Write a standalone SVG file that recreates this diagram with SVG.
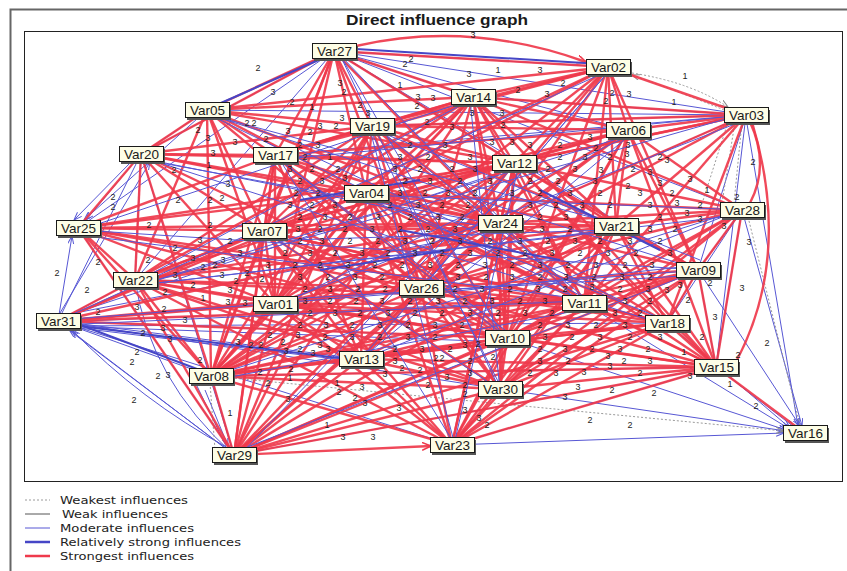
<svg xmlns="http://www.w3.org/2000/svg" width="847" height="571" viewBox="0 0 847 571">
<defs>
<style>
.r{stroke:#ef3a4c;stroke-width:2.4;fill:none;stroke-opacity:.92}
.b{stroke:#5757d4;stroke-width:1;fill:none}
.bs{stroke:#4646c6;stroke-width:2;fill:none}
.dt{stroke:#9a9a9a;stroke-width:1;stroke-dasharray:2 2;fill:none}
.wk{stroke:#555;stroke-width:1;fill:none}
.l{font-family:"Liberation Sans",Arial,sans-serif;font-size:9px;fill:#1e1e1e;text-anchor:middle}
.n rect.s{fill:#555}
.n rect.f{fill:#fdfde6;stroke:#1a1a1a;stroke-width:1}
.n text{font-family:"Liberation Sans",Arial,sans-serif;font-size:13.5px;fill:#1a1a1a;text-anchor:middle}
.lg{font-family:"DejaVu Sans",Verdana,sans-serif;font-size:11px;fill:#222}
</style>
<marker id="mb" markerUnits="userSpaceOnUse" markerWidth="10" markerHeight="8" refX="8" refY="3" orient="auto"><path d="M0,0L8,3L0,6" fill="none" stroke="#5757d4" stroke-width="1"/></marker>
<marker id="mr" markerUnits="userSpaceOnUse" markerWidth="12" markerHeight="10" refX="9" refY="4" orient="auto"><path d="M0,0L9,4L0,8" fill="none" stroke="#ef3a4c" stroke-width="1.6"/></marker>
<marker id="mg" markerUnits="userSpaceOnUse" markerWidth="10" markerHeight="8" refX="8" refY="3" orient="auto"><path d="M0,0L8,3L0,6" fill="none" stroke="#888" stroke-width="1"/></marker>
</defs>
<rect width="847" height="571" fill="#fff"/>
<rect x="10.5" y="9.5" width="850" height="580" fill="none" stroke="#666" stroke-width="2"/>
<text x="437" y="25" font-family="'Liberation Sans',Arial,sans-serif" font-size="15" font-weight="bold" fill="#1a1a1a" text-anchor="middle" textLength="182" lengthAdjust="spacingAndGlyphs">Direct influence graph</text>
<rect x="24.5" y="31.5" width="818" height="450" fill="#fff" stroke="#222" stroke-width="1"/>
<g id="connectors">
<g class="b">
<path d="M334 51L207 110"/><path d="M334 51L141 154"/><path d="M334 51L473 97"/><path d="M334 51L746 115"/><path d="M334 51L628 130"/><path d="M334 51L514 163"/><path d="M334 51L78 228"/><path d="M334 51L135 280"/><path d="M334 51L616 226"/><path d="M334 51L742 210"/><path d="M334 51L698 270"/><path d="M334 51L584 303"/><path d="M334 51L608 67"/>
<path d="M746 115L473 97"/><path d="M746 115L372 126"/><path d="M746 115L207 110"/><path d="M746 115L275 155"/><path d="M746 115L698 270"/><path d="M746 115L500 223"/><path d="M746 115L716 367"/><path d="M746 115L514 163"/>
<path d="M698 270L800 426" marker-end="url(#mb)"/><path d="M742 210L802 426" marker-end="url(#mb)"/><path d="M667 323L790 428" marker-end="url(#mb)"/><path d="M584 303L788 428" marker-end="url(#mb)"/><path d="M507 338L786 430" marker-end="url(#mb)"/><path d="M500 389L786 431" marker-end="url(#mb)"/><path d="M452 445L784 433" marker-end="url(#mb)"/><path d="M716 367L794 427" marker-end="url(#mb)"/><path d="M746 118L798 426" marker-end="url(#mb)"/>
<path d="M58 321L72 236" marker-end="url(#mb)"/><path d="M58 321L141 154"/><path d="M58 321L135 280"/><path d="M58 321L361 359"/><path d="M58 321L507 338"/><path d="M58 321L500 389"/><path d="M58 321L452 445"/><path d="M58 321L275 304"/><path d="M58 321L421 288"/><path d="M58 321L234 455"/>
<path d="M228 448Q140 400 72 330" marker-end="url(#mb)"/><path d="M224 447L70 331" marker-end="url(#mb)"/>
<path d="M141 154L86 220" marker-end="url(#mb)"/><path d="M207 110L84 220" marker-end="url(#mb)"/><path d="M131 162L74 220" marker-end="url(#mb)"/><path d="M60 313L150 162" marker-end="url(#mb)"/>
<path d="M141 154L207 110"/><path d="M141 154L135 280"/><path d="M234 455L141 154"/><path d="M234 455L211 376"/><path d="M234 455L78 228"/><path d="M234 455Q150 380 135 280"/>
<path d="M716 367L452 445"/><path d="M716 367L234 455"/><path d="M716 367L211 376"/><path d="M698 270L716 367"/><path d="M698 270L667 323"/><path d="M742 210L716 367"/><path d="M742 210L667 323"/><path d="M742 210L698 270"/>
<path d="M205 390L228 446" marker-end="url(#mb)"/><path d="M196 384L226 446"/><path d="M58 321L211 376"/>
<path d="M60 316L500 230"/><path d="M60 318L514 168"/><path d="M62 322L584 300"/><path d="M62 326L667 323"/><path d="M62 326L361 362"/><path d="M62 326L507 342"/>
</g>
<g class="dt">
<path d="M632 73Q690 82 728 107" marker-end="url(#mg)"/><path d="M724 110Q680 92 632 75" marker-end="url(#mg)"/>
<path d="M735 122L722 203"/><path d="M742 122L734 203"/><path d="M728 122L700 210"/>
<path d="M211 376L784 431" marker-end="url(#mg)"/><path d="M748 217L800 425"/><path d="M210 383L215 450"/>
</g>
<g class="r">
<path d="M234 455L431 446" marker-end="url(#mr)"/><path d="M234 455L500 389"/><path d="M234 455L507 338"/><path d="M234 455L361 359"/><path d="M234 455L421 288"/><path d="M234 455L500 223"/><path d="M234 455L514 163"/><path d="M234 455L366 193"/><path d="M234 455L264 231"/><path d="M234 455L275 304"/><path d="M234 455L584 303"/><path d="M234 455L667 323"/><path d="M234 455L616 226"/><path d="M234 455L698 270"/><path d="M234 455L716 367"/><path d="M234 455L135 280"/><path d="M234 455L78 228"/><path d="M234 455L275 155"/><path d="M234 455L372 126"/><path d="M234 455L473 97"/><path d="M211 376L234 455"/>
<path d="M211 376L361 359"/><path d="M211 376L500 389"/><path d="M211 376L421 288"/><path d="M211 376L507 338"/><path d="M211 376L584 303"/><path d="M211 376L500 223"/><path d="M211 376L514 163"/><path d="M211 376L366 193"/><path d="M211 376L264 231"/><path d="M211 376L275 304"/><path d="M211 376L135 280"/><path d="M211 376L78 228"/><path d="M211 376L141 154"/><path d="M211 376L207 110"/><path d="M211 376L275 155"/><path d="M211 376L372 126"/><path d="M211 376L473 97"/><path d="M211 376L608 67"/><path d="M211 376L628 130"/><path d="M211 376L616 226"/><path d="M211 376L698 270"/><path d="M211 376L667 323"/><path d="M211 376L716 367"/><path d="M211 376L452 445"/><path d="M211 376L334 51"/>
<path d="M452 445L500 389"/><path d="M452 445L507 338"/><path d="M452 445L584 303"/><path d="M452 445L667 323"/><path d="M452 445L716 367"/><path d="M452 445L698 270"/><path d="M452 445L616 226"/><path d="M452 445L500 223"/><path d="M452 445L514 163"/><path d="M452 445L421 288"/><path d="M452 445L361 359"/><path d="M452 445L275 304"/><path d="M452 445L264 231"/><path d="M452 445L366 193"/><path d="M452 445L135 280"/><path d="M452 445L742 210"/><path d="M452 445L628 130"/>
<path d="M716 367L667 323"/><path d="M716 367L698 270"/><path d="M716 367L584 303"/><path d="M716 367L616 226"/><path d="M716 367L742 210"/><path d="M716 367L500 223"/><path d="M716 367L514 163"/><path d="M716 367L507 338"/><path d="M716 367L500 389"/><path d="M716 367L421 288"/><path d="M716 367L361 359"/><path d="M716 367L275 304"/><path d="M716 367L798 428"/><path d="M716 367L628 130"/><path d="M716 367L473 97"/><path d="M716 367L366 193"/>
<path d="M667 323L584 303"/><path d="M667 323L698 270"/><path d="M667 323L616 226"/><path d="M667 323L500 223"/><path d="M667 323L514 163"/><path d="M667 323L507 338"/><path d="M667 323L421 288"/><path d="M667 323L500 389"/><path d="M667 323L361 359"/><path d="M667 323L275 304"/><path d="M667 323L264 231"/><path d="M667 323L366 193"/>
<path d="M698 270L616 226"/><path d="M698 270L584 303"/><path d="M698 270L500 223"/><path d="M698 270L514 163"/><path d="M698 270L507 338"/><path d="M698 270L421 288"/><path d="M698 270L628 130"/><path d="M698 270L742 210"/><path d="M698 270L608 67"/><path d="M698 270L500 389"/>
<path d="M742 210L616 226"/><path d="M742 210L500 223"/><path d="M742 210L514 163"/><path d="M742 210L584 303"/><path d="M742 210L507 338"/><path d="M742 210L628 130"/><path d="M742 210L421 288"/><path d="M742 210L473 97"/><path d="M742 210L366 193"/><path d="M742 210L500 389"/>
<path d="M746 115L608 67"/><path d="M746 115L628 130"/><path d="M746 115L473 97"/><path d="M746 115L514 163"/><path d="M746 115L500 223"/><path d="M746 115L616 226"/><path d="M746 115L667 323"/><path d="M746 115L584 303"/><path d="M746 115L421 288"/><path d="M746 115L366 193"/><path d="M746 115L372 126"/><path d="M752 122Q792 255 737 360"/><path d="M750 122Q770 165 750 203"/>
<path d="M608 67L334 51"/><path d="M608 67L473 97"/><path d="M608 67L372 126"/><path d="M608 67L514 163"/><path d="M608 67L628 130"/><path d="M608 67L616 226"/><path d="M608 67L500 223"/><path d="M608 67L366 193"/><path d="M608 67L275 155"/><path d="M608 67L207 110"/><path d="M608 67L421 288"/><path d="M608 67L584 303"/><path d="M608 67L507 338"/><path d="M608 67L264 231"/><path d="M356 46Q470 20 586 62" marker-end="url(#mr)"/>
<path d="M628 130L473 97"/><path d="M628 130L514 163"/><path d="M628 130L500 223"/><path d="M628 130L616 226"/><path d="M628 130L421 288"/><path d="M628 130L584 303"/><path d="M628 130L507 338"/><path d="M628 130L366 193"/><path d="M628 130L372 126"/><path d="M628 130L275 155"/><path d="M628 130L264 231"/>
<path d="M473 97L334 51"/><path d="M473 97L372 126"/><path d="M473 97L514 163"/><path d="M473 97L500 223"/><path d="M473 97L366 193"/><path d="M473 97L275 155"/><path d="M473 97L207 110"/><path d="M473 97L421 288"/><path d="M473 97L264 231"/><path d="M473 97L275 304"/><path d="M473 97L616 226"/><path d="M473 97L584 303"/><path d="M473 97L507 338"/>
<path d="M334 51L372 126"/><path d="M334 51L366 193"/><path d="M334 51L275 155"/><path d="M334 51L207 110"/><path d="M334 51L514 163"/><path d="M334 51L500 223"/><path d="M334 51L421 288"/><path d="M334 51L264 231"/><path d="M334 51L141 154"/><path d="M334 51L275 304"/>
<path d="M372 126L366 193"/><path d="M372 126L275 155"/><path d="M372 126L514 163"/><path d="M372 126L500 223"/><path d="M372 126L421 288"/><path d="M372 126L264 231"/><path d="M372 126L275 304"/><path d="M372 126L207 110"/><path d="M372 126L141 154"/><path d="M372 126L584 303"/><path d="M372 126L507 338"/><path d="M372 126L616 226"/>
<path d="M207 110L275 155"/><path d="M207 110L366 193"/><path d="M207 110L264 231"/><path d="M207 110L514 163"/><path d="M207 110L500 223"/><path d="M207 110L421 288"/><path d="M207 110L141 154"/><path d="M207 110L275 304"/><path d="M207 110L135 280"/>
<path d="M141 154L275 155"/><path d="M141 154L366 193"/><path d="M141 154L264 231"/><path d="M141 154L500 223"/><path d="M141 154L514 163"/><path d="M141 154L421 288"/><path d="M141 154L275 304"/><path d="M141 154L135 280"/><path d="M141 154L78 228"/>
<path d="M275 155L366 193"/><path d="M275 155L264 231"/><path d="M275 155L500 223"/><path d="M275 155L514 163"/><path d="M275 155L421 288"/><path d="M275 155L275 304"/><path d="M275 155L361 359"/><path d="M275 155L584 303"/><path d="M275 155L507 338"/>
<path d="M366 193L500 223"/><path d="M366 193L514 163"/><path d="M366 193L421 288"/><path d="M366 193L264 231"/><path d="M366 193L275 304"/><path d="M366 193L361 359"/><path d="M366 193L616 226"/><path d="M366 193L584 303"/><path d="M366 193L507 338"/><path d="M366 193L500 389"/>
<path d="M514 163L500 223"/><path d="M514 163L421 288"/><path d="M514 163L616 226"/><path d="M514 163L584 303"/><path d="M514 163L507 338"/><path d="M514 163L500 389"/><path d="M514 163L361 359"/><path d="M514 163L275 304"/><path d="M514 163L264 231"/>
<path d="M500 223L421 288"/><path d="M500 223L616 226"/><path d="M500 223L584 303"/><path d="M500 223L507 338"/><path d="M500 223L500 389"/><path d="M500 223L361 359"/><path d="M500 223L275 304"/><path d="M500 223L264 231"/>
<path d="M616 226L584 303"/><path d="M616 226L507 338"/><path d="M616 226L421 288"/><path d="M616 226L500 389"/><path d="M616 226L361 359"/><path d="M616 226L275 304"/><path d="M616 226L264 231"/>
<path d="M78 228L275 155"/><path d="M78 228L264 231"/><path d="M78 228L366 193"/><path d="M78 228L500 223"/><path d="M78 228L421 288"/><path d="M78 228L275 304"/><path d="M78 228L135 280"/><path d="M78 228L514 163"/><path d="M78 228L584 303"/><path d="M78 228L507 338"/>
<path d="M264 231L421 288"/><path d="M264 231L275 304"/><path d="M264 231L361 359"/><path d="M264 231L584 303"/><path d="M264 231L507 338"/><path d="M264 231L500 389"/>
<path d="M135 280L264 231"/><path d="M135 280L366 193"/><path d="M135 280L421 288"/><path d="M135 280L275 304"/><path d="M135 280L500 223"/><path d="M135 280L514 163"/><path d="M135 280L616 226"/><path d="M135 280L584 303"/><path d="M135 280L507 338"/><path d="M135 280L361 359"/><path d="M135 280L372 126"/><path d="M135 280L473 97"/><path d="M135 280L500 389"/>
<path d="M58 321L135 280"/><path d="M58 321L264 231"/><path d="M58 321L421 288"/><path d="M58 321L275 304"/><path d="M58 321L500 223"/><path d="M58 321L584 303"/><path d="M58 321L507 338"/><path d="M58 321L366 193"/>
<path d="M421 288L275 304"/><path d="M421 288L361 359"/><path d="M421 288L507 338"/><path d="M421 288L500 389"/><path d="M421 288L584 303"/><path d="M275 304L361 359"/><path d="M275 304L507 338"/><path d="M275 304L500 389"/><path d="M275 304L584 303"/><path d="M584 303L507 338"/><path d="M584 303L500 389"/><path d="M584 303L361 359"/><path d="M507 338L500 389"/><path d="M507 338L361 359"/><path d="M361 359L500 389"/>
</g>
<g class="b">
<path d="M280 160L505 330"/><path d="M300 150L620 300"/><path d="M380 130L600 310"/><path d="M350 120L700 260"/><path d="M290 240L610 230"/><path d="M270 300L700 275"/><path d="M370 200L690 330"/><path d="M420 295L700 265"/><path d="M150 160L500 230"/><path d="M140 285L620 230"/><path d="M80 235L590 300"/><path d="M60 325L600 300"/><path d="M215 380L580 310"/><path d="M240 450L700 270"/><path d="M455 440L520 160"/><path d="M505 395L370 130"/><path d="M360 360L630 135"/><path d="M510 340L280 160"/><path d="M590 300L210 115"/><path d="M620 225L210 115"/><path d="M500 225L145 160"/><path d="M470 100L140 280"/><path d="M610 70L360 360"/><path d="M630 135L140 285"/><path d="M745 120L275 305"/><path d="M740 215L140 285"/><path d="M700 270L80 230"/><path d="M665 325L145 158"/><path d="M580 305L340 55"/><path d="M505 340L340 55"/><path d="M420 290L610 70"/><path d="M365 195L745 210"/><path d="M275 160L745 115"/><path d="M270 235L500 390"/><path d="M280 305L630 135"/><path d="M500 390L470 100"/><path d="M455 445L280 160"/><path d="M240 455L515 165"/><path d="M215 375L740 210"/><path d="M360 360L740 210"/><path d="M140 285L740 115"/><path d="M60 320L610 70"/><path d="M60 320L700 270"/><path d="M80 230L470 100"/><path d="M210 115L700 270"/><path d="M340 55L500 390"/><path d="M370 130L455 445"/>
</g>
<g class="bs">
<path d="M62 318L205 372"/><path d="M62 324L355 360"/><path d="M340 48L600 64"/><path d="M214 106L330 55"/><path d="M400 230L560 260"/><path d="M320 270L450 250"/><path d="M540 190L660 250"/><path d="M300 200L420 180"/>
</g>
</g>
<g id="weights" class="l">
<text x="473" y="38">3</text><text x="258" y="71">2</text><text x="273" y="95">3</text><text x="292" y="105">2</text><text x="405" y="67">2</text><text x="411" y="62">2</text><text x="400" y="88">1</text><text x="340" y="86">3</text><text x="344" y="95">2</text><text x="312" y="110">1</text><text x="198" y="133">2</text><text x="208" y="141">3</text><text x="247" y="126">2</text><text x="254" y="126">2</text><text x="288" y="134">3</text><text x="310" y="135">2</text><text x="320" y="129">3</text><text x="336" y="129">2</text><text x="342" y="121">3</text><text x="360" y="108">2</text><text x="368" y="116">3</text><text x="418" y="100">3</text><text x="417" y="109">2</text><text x="433" y="101">3</text><text x="266" y="142">2</text><text x="235" y="145">3</text><text x="213" y="156">3</text><text x="209" y="168">1</text><text x="174" y="173">2</text>
<text x="210" y="203">2</text><text x="178" y="203">2</text><text x="113" y="200">2</text><text x="113" y="210">2</text><text x="149" y="228">2</text><text x="210" y="228">2</text><text x="228" y="187">3</text><text x="222" y="201">2</text><text x="200" y="243">3</text><text x="175" y="251">2</text><text x="148" y="263">2</text><text x="193" y="261">3</text><text x="203" y="270">2</text><text x="223" y="263">3</text><text x="175" y="278">3</text><text x="193" y="288">2</text><text x="165" y="295">2</text><text x="222" y="278">3</text><text x="236" y="284">2</text><text x="247" y="276">2</text><text x="228" y="305">3</text><text x="203" y="301">1</text><text x="245" y="306">3</text><text x="185" y="323">3</text><text x="163" y="331">3</text><text x="143" y="336">2</text><text x="98" y="315">2</text><text x="87" y="293">2</text><text x="98" y="265">2</text><text x="57" y="276">2</text>
<text x="137" y="310">3</text><text x="164" y="312">2</text><text x="170" y="342">3</text><text x="137" y="355">2</text><text x="132" y="365">2</text><text x="158" y="379">2</text><text x="168" y="378">3</text><text x="134" y="403">2</text><text x="230" y="416">1</text><text x="200" y="363">2</text>
<text x="260" y="375">2</text><text x="268" y="386">2</text><text x="291" y="372">2</text><text x="290" y="381">1</text><text x="288" y="402">3</text><text x="327" y="428">1</text><text x="343" y="440">3</text><text x="373" y="440">3</text><text x="337" y="386">1</text><text x="339" y="395">2</text><text x="362" y="390">3</text><text x="355" y="401">2</text><text x="365" y="406">3</text><text x="399" y="411">3</text><text x="428" y="388">2</text><text x="465" y="388">2</text><text x="465" y="397">2</text><text x="465" y="413">3</text><text x="479" y="421">3</text><text x="487" y="428">2</text><text x="402" y="371">2</text><text x="420" y="373">2</text><text x="447" y="380">3</text><text x="436" y="361">2</text><text x="442" y="361">2</text><text x="493" y="360">2</text><text x="465" y="348">3</text><text x="478" y="347">2</text><text x="283" y="345">2</text><text x="286" y="354">3</text><text x="251" y="348">2</text><text x="261" y="348">2</text><text x="238" y="345">3</text><text x="320" y="348">3</text><text x="313" y="356">3</text>
<text x="749" y="245">3</text><text x="742" y="291">3</text><text x="710" y="286">2</text><text x="688" y="303">2</text><text x="715" y="320">3</text><text x="702" y="340">2</text><text x="767" y="346">2</text><text x="684" y="355">1</text><text x="738" y="358">2</text><text x="690" y="379">3</text><text x="730" y="387">1</text><text x="756" y="409">2</text><text x="654" y="396">2</text><text x="612" y="393">2</text><text x="578" y="390">3</text><text x="565" y="400">3</text><text x="584" y="375">3</text><text x="610" y="369">3</text><text x="608" y="359">3</text><text x="590" y="423">2</text><text x="630" y="428">2</text><text x="680" y="288">3</text><text x="667" y="293">3</text>
<text x="685" y="79">1</text><text x="612" y="96">2</text><text x="629" y="97">3</text><text x="606" y="104">2</text><text x="674" y="105">1</text><text x="667" y="163">3</text><text x="753" y="165">2</text><text x="690" y="182">3</text><text x="707" y="193">1</text><text x="737" y="200">2</text><text x="677" y="206">3</text><text x="687" y="216">3</text><text x="724" y="229">3</text><text x="601" y="173">3</text><text x="596" y="151">2</text><text x="628" y="148">3</text><text x="633" y="172">2</text><text x="628" y="189">2</text><text x="627" y="157">3</text>
<text x="540" y="73">3</text><text x="469" y="77">3</text><text x="498" y="73">1</text><text x="518" y="93">2</text><text x="547" y="97">3</text><text x="563" y="86">2</text><text x="472" y="116">3</text><text x="502" y="116">3</text><text x="503" y="128">2</text><text x="452" y="130">3</text><text x="427" y="125">2</text><text x="492" y="145">3</text><text x="512" y="145">3</text>
<text x="300" y="148">2</text><text x="318" y="148">3</text><text x="410" y="148">2</text><text x="445" y="148">3</text><text x="530" y="148">3</text><text x="560" y="148">2</text><text x="590" y="140">3</text>
<text x="305" y="160">2</text><text x="330" y="160">1</text><text x="400" y="160">3</text><text x="428" y="160">2</text><text x="470" y="160">3</text><text x="560" y="160">2</text><text x="585" y="160">3</text><text x="660" y="160">2</text>
<text x="290" y="172">3</text><text x="312" y="172">2</text><text x="338" y="172">2</text><text x="395" y="172">3</text><text x="420" y="172">2</text><text x="452" y="172">2</text><text x="475" y="172">3</text><text x="548" y="172">2</text><text x="575" y="172">3</text><text x="610" y="160">2</text><text x="650" y="175">3</text>
<text x="300" y="184">2</text><text x="322" y="184">3</text><text x="345" y="181">3</text><text x="405" y="184">2</text><text x="430" y="184">3</text><text x="460" y="184">2</text><text x="490" y="184">3</text><text x="530" y="184">2</text><text x="558" y="184">2</text><text x="595" y="184">3</text><text x="660" y="186">3</text>
<text x="296" y="196">2</text><text x="318" y="196">2</text><text x="400" y="196">3</text><text x="425" y="196">2</text><text x="448" y="196">3</text><text x="475" y="196">2</text><text x="512" y="196">3</text><text x="540" y="196">2</text><text x="570" y="196">3</text><text x="600" y="196">2</text><text x="640" y="196">3</text><text x="672" y="196">2</text>
<text x="290" y="208">3</text><text x="312" y="208">2</text><text x="335" y="208">3</text><text x="390" y="208">2</text><text x="418" y="208">3</text><text x="442" y="208">2</text><text x="468" y="208">2</text><text x="530" y="208">3</text><text x="556" y="208">2</text><text x="582" y="208">3</text><text x="610" y="208">2</text><text x="650" y="208">3</text><text x="700" y="208">2</text>
<text x="300" y="220">2</text><text x="325" y="220">3</text><text x="350" y="220">2</text><text x="378" y="220">3</text><text x="410" y="220">2</text><text x="438" y="220">3</text><text x="462" y="220">2</text><text x="540" y="220">2</text><text x="566" y="220">3</text><text x="660" y="220">2</text><text x="700" y="222">3</text>
<text x="298" y="232">3</text><text x="320" y="232">2</text><text x="345" y="232">2</text><text x="372" y="232">3</text><text x="400" y="232">2</text><text x="428" y="232">2</text><text x="455" y="232">3</text><text x="542" y="232">3</text><text x="570" y="232">2</text><text x="650" y="232">3</text><text x="675" y="232">2</text>
<text x="230" y="244">2</text><text x="300" y="244">2</text><text x="322" y="244">3</text><text x="350" y="244">2</text><text x="378" y="244">2</text><text x="405" y="244">3</text><text x="432" y="244">2</text><text x="460" y="244">3</text><text x="490" y="244">2</text><text x="520" y="244">3</text><text x="548" y="244">2</text><text x="575" y="244">3</text><text x="600" y="244">2</text><text x="630" y="244">3</text><text x="660" y="244">2</text>
<text x="240" y="256">3</text><text x="285" y="256">2</text><text x="310" y="256">3</text><text x="335" y="256">2</text><text x="362" y="256">3</text><text x="388" y="256">2</text><text x="415" y="256">3</text><text x="442" y="256">2</text><text x="470" y="256">3</text><text x="498" y="256">2</text><text x="525" y="256">2</text><text x="552" y="256">3</text><text x="580" y="256">2</text><text x="608" y="256">3</text><text x="636" y="256">2</text><text x="670" y="256">3</text>
<text x="215" y="268">2</text><text x="268" y="268">3</text><text x="295" y="268">2</text><text x="320" y="268">2</text><text x="348" y="268">3</text><text x="375" y="268">2</text><text x="402" y="268">2</text><text x="430" y="268">3</text><text x="458" y="268">2</text><text x="485" y="268">3</text><text x="512" y="268">2</text><text x="540" y="268">3</text><text x="568" y="268">2</text><text x="596" y="268">3</text><text x="625" y="268">2</text><text x="652" y="268">3</text>
<text x="262" y="282">2</text><text x="300" y="280">3</text><text x="328" y="280">2</text><text x="355" y="280">3</text><text x="382" y="280">2</text><text x="458" y="280">3</text><text x="486" y="280">2</text><text x="512" y="280">3</text><text x="540" y="280">2</text><text x="566" y="280">3</text><text x="594" y="280">2</text><text x="622" y="280">3</text><text x="650" y="280">2</text>
<text x="230" y="293">3</text><text x="305" y="292">2</text><text x="330" y="292">3</text><text x="358" y="292">2</text><text x="385" y="292">2</text><text x="455" y="292">2</text><text x="482" y="292">3</text><text x="510" y="292">2</text><text x="538" y="292">3</text><text x="565" y="292">2</text><text x="592" y="290">3</text><text x="620" y="292">2</text><text x="648" y="292">3</text>
<text x="305" y="304">3</text><text x="330" y="304">2</text><text x="356" y="304">2</text><text x="382" y="304">3</text><text x="410" y="304">2</text><text x="438" y="304">3</text><text x="465" y="304">2</text><text x="492" y="304">3</text><text x="520" y="304">2</text><text x="545" y="304">3</text><text x="625" y="304">3</text><text x="650" y="304">2</text>
<text x="310" y="316">2</text><text x="335" y="316">3</text><text x="360" y="316">2</text><text x="388" y="316">3</text><text x="415" y="316">2</text><text x="442" y="316">2</text><text x="470" y="316">3</text><text x="498" y="316">2</text><text x="525" y="316">3</text><text x="552" y="316">2</text><text x="615" y="316">3</text><text x="640" y="316">2</text>
<text x="300" y="328">2</text><text x="326" y="328">3</text><text x="352" y="328">2</text><text x="380" y="328">3</text><text x="408" y="328">2</text><text x="435" y="328">3</text><text x="462" y="328">2</text><text x="540" y="328">2</text><text x="568" y="328">3</text><text x="596" y="328">2</text><text x="625" y="328">3</text>
<text x="270" y="338">2</text><text x="298" y="338">3</text><text x="325" y="340">2</text><text x="352" y="340">3</text><text x="380" y="340">2</text><text x="408" y="340">3</text><text x="435" y="340">2</text><text x="545" y="340">3</text><text x="572" y="340">2</text><text x="600" y="340">3</text><text x="630" y="340">2</text><text x="660" y="340">3</text>
<text x="300" y="352">2</text><text x="328" y="352">3</text><text x="395" y="352">2</text><text x="422" y="352">3</text><text x="450" y="352">2</text><text x="540" y="352">2</text><text x="565" y="352">3</text><text x="592" y="352">2</text><text x="620" y="352">3</text><text x="648" y="352">2</text>
<text x="395" y="364">3</text><text x="470" y="364">2</text><text x="540" y="364">3</text><text x="568" y="364">2</text><text x="624" y="364">2</text><text x="650" y="364">3</text>
<text x="385" y="377">3</text><text x="470" y="376">3</text><text x="530" y="376">2</text><text x="556" y="376">3</text><text x="640" y="376">2</text>
</g>
<g id="nodes" class="n">
<g id="Var27"><rect class="s" x="314" y="46" width="44" height="15"/><rect class="f" x="312.5" y="43.5" width="44" height="15"/><text x="334.5" y="56">Var27</text></g>
<g id="Var02"><rect class="s" x="588" y="62" width="44" height="15"/><rect class="f" x="586.5" y="59.5" width="44" height="15"/><text x="608.5" y="72">Var02</text></g>
<g id="Var03"><rect class="s" x="726" y="110" width="44" height="15"/><rect class="f" x="724.5" y="107.5" width="44" height="15"/><text x="746.5" y="120">Var03</text></g>
<g id="Var05"><rect class="s" x="187" y="105" width="44" height="15"/><rect class="f" x="185.5" y="102.5" width="44" height="15"/><text x="207.5" y="115">Var05</text></g>
<g id="Var14"><rect class="s" x="453" y="92" width="44" height="15"/><rect class="f" x="451.5" y="89.5" width="44" height="15"/><text x="473.5" y="102">Var14</text></g>
<g id="Var19"><rect class="s" x="352" y="121" width="44" height="15"/><rect class="f" x="350.5" y="118.5" width="44" height="15"/><text x="372.5" y="131">Var19</text></g>
<g id="Var06"><rect class="s" x="608" y="125" width="44" height="15"/><rect class="f" x="606.5" y="122.5" width="44" height="15"/><text x="628.5" y="135">Var06</text></g>
<g id="Var20"><rect class="s" x="121" y="149" width="44" height="15"/><rect class="f" x="119.5" y="146.5" width="44" height="15"/><text x="141.5" y="159">Var20</text></g>
<g id="Var17"><rect class="s" x="255" y="150" width="44" height="15"/><rect class="f" x="253.5" y="147.5" width="44" height="15"/><text x="275.5" y="160">Var17</text></g>
<g id="Var12"><rect class="s" x="494" y="158" width="44" height="15"/><rect class="f" x="492.5" y="155.5" width="44" height="15"/><text x="514.5" y="168">Var12</text></g>
<g id="Var04"><rect class="s" x="346" y="188" width="44" height="15"/><rect class="f" x="344.5" y="185.5" width="44" height="15"/><text x="366.5" y="198">Var04</text></g>
<g id="Var28"><rect class="s" x="722" y="205" width="44" height="15"/><rect class="f" x="720.5" y="202.5" width="44" height="15"/><text x="742.5" y="215">Var28</text></g>
<g id="Var25"><rect class="s" x="58" y="223" width="44" height="15"/><rect class="f" x="56.5" y="220.5" width="44" height="15"/><text x="78.5" y="233">Var25</text></g>
<g id="Var07"><rect class="s" x="244" y="226" width="44" height="15"/><rect class="f" x="242.5" y="223.5" width="44" height="15"/><text x="264.5" y="236">Var07</text></g>
<g id="Var24"><rect class="s" x="480" y="218" width="44" height="15"/><rect class="f" x="478.5" y="215.5" width="44" height="15"/><text x="500.5" y="228">Var24</text></g>
<g id="Var21"><rect class="s" x="596" y="221" width="44" height="15"/><rect class="f" x="594.5" y="218.5" width="44" height="15"/><text x="616.5" y="231">Var21</text></g>
<g id="Var09"><rect class="s" x="678" y="265" width="44" height="15"/><rect class="f" x="676.5" y="262.5" width="44" height="15"/><text x="698.5" y="275">Var09</text></g>
<g id="Var22"><rect class="s" x="115" y="275" width="44" height="15"/><rect class="f" x="113.5" y="272.5" width="44" height="15"/><text x="135.5" y="285">Var22</text></g>
<g id="Var26"><rect class="s" x="401" y="283" width="44" height="15"/><rect class="f" x="399.5" y="280.5" width="44" height="15"/><text x="421.5" y="293">Var26</text></g>
<g id="Var01"><rect class="s" x="255" y="299" width="44" height="15"/><rect class="f" x="253.5" y="296.5" width="44" height="15"/><text x="275.5" y="309">Var01</text></g>
<g id="Var11"><rect class="s" x="564" y="298" width="44" height="15"/><rect class="f" x="562.5" y="295.5" width="44" height="15"/><text x="584.5" y="308">Var11</text></g>
<g id="Var31"><rect class="s" x="38" y="316" width="44" height="15"/><rect class="f" x="36.5" y="313.5" width="44" height="15"/><text x="58.5" y="326">Var31</text></g>
<g id="Var18"><rect class="s" x="647" y="318" width="44" height="15"/><rect class="f" x="645.5" y="315.5" width="44" height="15"/><text x="667.5" y="328">Var18</text></g>
<g id="Var10"><rect class="s" x="487" y="333" width="44" height="15"/><rect class="f" x="485.5" y="330.5" width="44" height="15"/><text x="507.5" y="343">Var10</text></g>
<g id="Var13"><rect class="s" x="341" y="354" width="44" height="15"/><rect class="f" x="339.5" y="351.5" width="44" height="15"/><text x="361.5" y="364">Var13</text></g>
<g id="Var08"><rect class="s" x="191" y="371" width="44" height="15"/><rect class="f" x="189.5" y="368.5" width="44" height="15"/><text x="211.5" y="381">Var08</text></g>
<g id="Var15"><rect class="s" x="696" y="362" width="44" height="15"/><rect class="f" x="694.5" y="359.5" width="44" height="15"/><text x="716.5" y="372">Var15</text></g>
<g id="Var30"><rect class="s" x="480" y="384" width="44" height="15"/><rect class="f" x="478.5" y="381.5" width="44" height="15"/><text x="500.5" y="394">Var30</text></g>
<g id="Var23"><rect class="s" x="432" y="440" width="44" height="15"/><rect class="f" x="430.5" y="437.5" width="44" height="15"/><text x="452.5" y="450">Var23</text></g>
<g id="Var16"><rect class="s" x="785" y="428" width="44" height="15"/><rect class="f" x="783.5" y="425.5" width="44" height="15"/><text x="805.5" y="438">Var16</text></g>
<g id="Var29"><rect class="s" x="214" y="450" width="44" height="15"/><rect class="f" x="212.5" y="447.5" width="44" height="15"/><text x="234.5" y="460">Var29</text></g>
</g>
<g id="legend">
<line x1="25" y1="500" x2="50" y2="500" class="dt"/>
<line x1="25" y1="514" x2="50" y2="514" class="wk"/>
<line x1="25" y1="528" x2="50" y2="528" class="b"/>
<line x1="25" y1="542" x2="50" y2="542" stroke="#4646c6" stroke-width="2.5"/>
<line x1="25" y1="556" x2="50" y2="556" stroke="#ef3a4c" stroke-width="2.5"/>
<text class="lg" x="60" y="504" textLength="128" lengthAdjust="spacingAndGlyphs">Weakest influences</text>
<text class="lg" x="62" y="518" textLength="106" lengthAdjust="spacingAndGlyphs">Weak influences</text>
<text class="lg" x="60" y="532" textLength="134" lengthAdjust="spacingAndGlyphs">Moderate influences</text>
<text class="lg" x="60" y="546" textLength="181" lengthAdjust="spacingAndGlyphs">Relatively strong influences</text>
<text class="lg" x="60" y="560" textLength="134" lengthAdjust="spacingAndGlyphs">Strongest influences</text>
</g>
</svg>
